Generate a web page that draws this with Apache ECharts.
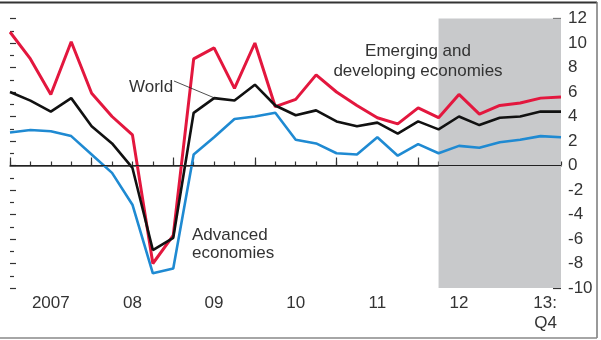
<html>
<script src="https://cdn.jsdelivr.net/npm/echarts@6/dist/echarts.min.js"></script>
<body style="margin:0">
    <div id="main" style="width:601px;height:340px;"></div>
</body>
</html>
<script>
    // quarterly, 2007 Q1 .. 2013 Q4
    var quarters = [
        '2007Q1', '2007Q2', '2007Q3', '2007Q4',
        '2008Q1', '2008Q2', '2008Q3', '2008Q4',
        '2009Q1', '2009Q2', '2009Q3', '2009Q4',
        '2010Q1', '2010Q2', '2010Q3', '2010Q4',
        '2011Q1', '2011Q2', '2011Q3', '2011Q4',
        '2012Q1', '2012Q2', '2012Q3', '2012Q4',
        '2013Q1', '2013Q2', '2013Q3', '2013Q4'
    ];
    var xTickLabels = [
        '', '', '2007', '', '', '', '08', '', '', '', '09', '', '', '',
        '10', '', '', '', '11', '', '', '', '12', '', '', '', '', '13:\nQ4'
    ];
    var emerging = [10.9, 8.7, 5.8, 10.1, 5.9, 4.0, 2.5, -8.0, -5.7, 8.7, 9.6, 6.3, 10.0, 4.8,
        5.4, 7.4, 6.0, 4.9, 3.9, 3.4, 4.7, 3.9, 5.8, 4.2, 4.9, 5.1, 5.5, 5.6];
    var world = [6.0, 5.3, 4.4, 5.5, 3.2, 1.8, -0.2, -6.9, -5.9, 4.3, 5.5, 5.3, 6.6, 4.9,
        4.1, 4.5, 3.6, 3.2, 3.5, 2.6, 3.6, 2.95, 4.0, 3.3, 3.9, 4.0, 4.4, 4.4];
    var advanced = [2.7, 2.9, 2.8, 2.4, 0.9, -0.6, -3.2, -8.8, -8.4, 0.9, 2.3, 3.8, 4.0, 4.3,
        2.1, 1.8, 1.0, 0.9, 2.3, 0.8, 1.75, 1.0, 1.6, 1.45, 1.9, 2.1, 2.4, 2.3];
    var shadeFrom = '2012Q2', shadeTo = '2013Q4';
    var yMin = -10, yMax = 12;

    var font = 'Liberation Sans, Arial, sans-serif';
    var ink = '#333';

    var chartDom = document.getElementById('main');
    var myChart = echarts.init(chartDom);

    var xData = quarters.map(function (q, i) {
        // last label sits left of the end point
        if (i === quarters.length - 1) {
            return { value: q, textStyle: { align: 'right', padding: [0, 4, 0, 0] } };
        }
        return q;
    });

    var yLabel = { fontFamily: font, fontSize: 17, color: ink, margin: 7 };

    var option = {
        animation: false,
        grid: { left: 10, right: 40, top: 18.5, bottom: 52 },
        xAxis: [
            {
                type: 'category',
                data: xData,
                boundaryGap: false,
                axisLine: { lineStyle: { color: ink, width: 1.5 } },
                axisTick: { inside: true, length: 4, interval: 0, lineStyle: { color: ink, width: 1.2 } },
                axisLabel: {
                    interval: 0,
                    formatter: function (v, i) { return xTickLabels[i]; },
                    fontFamily: font, fontSize: 17, color: ink, margin: 5, lineHeight: 20
                }
            },
            {
                // longer ticks at each year start
                type: 'category',
                data: quarters,
                boundaryGap: false,
                position: 'bottom',
                axisLine: { show: false },
                axisTick: {
                    show: true, inside: true, length: 8,
                    interval: function (i) { return i % 4 === 0; },
                    lineStyle: { color: ink, width: 1.2 }
                },
                axisLabel: { show: false }
            }
        ],
        yAxis: [
            {
                type: 'value',
                position: 'right',
                min: yMin, max: yMax, interval: 2,
                axisLine: { show: false },
                axisTick: { show: true, inside: true, length: 8, lineStyle: { color: ink, width: 1.2 } },
                minorTick: { show: true, splitNumber: 2, length: 4, lineStyle: { color: ink, width: 1.2 } },
                splitLine: { show: false },
                axisLabel: Object.assign({ showMinLabel: false, showMaxLabel: false }, yLabel)
            },
            {
                type: 'value',
                position: 'left',
                min: yMin, max: yMax, interval: 2,
                axisLine: { show: false },
                axisTick: { show: true, inside: true, length: 6, lineStyle: { color: ink, width: 1.2 } },
                minorTick: { show: true, splitNumber: 2, length: 4, lineStyle: { color: ink, width: 1.2 } },
                splitLine: { show: false },
                axisLabel: { show: false }
            },
            {
                // only the end labels (-10 and 12)
                type: 'value',
                position: 'right',
                min: yMin, max: yMax, interval: yMax - yMin,
                axisLine: { show: false },
                axisTick: { show: false },
                splitLine: { show: false },
                axisLabel: Object.assign({ showMinLabel: true, showMaxLabel: true }, yLabel)
            }
        ],
        series: [
            {
                name: 'Advanced economies',
                type: 'line',
                data: advanced,
                showSymbol: false,
                color: '#1f8ad2',
                lineStyle: { width: 2.6 },
                markArea: {
                    silent: true,
                    itemStyle: { color: '#c8c9cb' },
                    data: [[{ xAxis: shadeFrom }, { xAxis: shadeTo }]]
                },
                markLine: {
                    silent: true,
                    symbol: 'none',
                    label: { show: false },
                    lineStyle: { color: '#222', width: 1.2, type: 'solid' },
                    data: [{ yAxis: 0 }]
                }
            },
            {
                name: 'Emerging and developing economies',
                type: 'line',
                data: emerging,
                showSymbol: false,
                color: '#e3173e',
                lineStyle: { width: 3 }
            },
            {
                name: 'World',
                type: 'line',
                data: world,
                showSymbol: false,
                color: '#111',
                lineStyle: { width: 2.6 }
            }
        ],
        graphic: [
            { type: 'line', shape: { x1: 0, y1: 2.5, x2: 597, y2: 2.5 }, style: { stroke: '#333', lineWidth: 2 } },
            { type: 'line', shape: { x1: 597, y1: 2, x2: 597, y2: 338 }, style: { stroke: '#777', lineWidth: 1.5 } },
            { type: 'line', shape: { x1: 0, y1: 338, x2: 597, y2: 338 }, style: { stroke: '#888', lineWidth: 1.5 } },
            {
                type: 'text', left: 129, top: 73, z: 10,
                style: { text: 'World', font: '17px ' + font, fill: ink }
            },
            { type: 'line', z: 10, shape: { x1: 174, y1: 81, x2: 217, y2: 99 }, style: { stroke: '#222', lineWidth: 0.8 } },
            {
                type: 'text', x: 418, y: 41, z: 10,
                style: {
                    text: 'Emerging and\ndeveloping economies', font: '17px ' + font, fill: ink,
                    align: 'center', lineHeight: 20
                }
            },
            {
                type: 'text', x: 192, y: 226, z: 10,
                style: { text: 'Advanced\neconomies', font: '17px ' + font, fill: ink, lineHeight: 18 }
            }
        ]
    };

    option && myChart.setOption(option);
</script>
